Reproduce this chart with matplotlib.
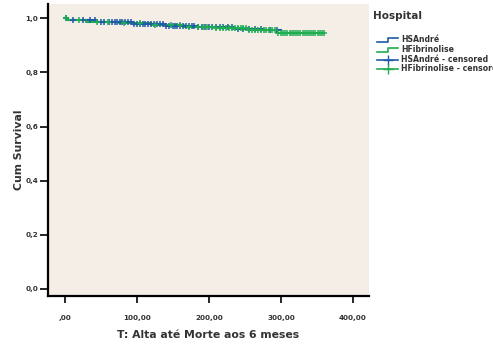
import numpy as np
import matplotlib
matplotlib.use("Agg")
import matplotlib.pyplot as plt
from matplotlib.lines import Line2D

# ---- data ----
groups = ["HSAndré", "HFibrinolise"]
blue_times = [0, 4, 45, 95, 140, 185, 235, 275]
blue_surv = [1.0, 0.992, 0.986, 0.979, 0.972, 0.966, 0.960, 0.955]
blue_end = 300
green_times = [0, 3, 30, 75, 120, 165, 210, 255, 295]
green_surv = [1.0, 0.993, 0.987, 0.982, 0.976, 0.969, 0.962, 0.956, 0.946]
green_end = 360

blue_cens = [2, 12, 25, 35, 42, 50, 55, 62, 66, 70, 73, 76, 80, 84, 88, 92, 96,
             100, 104, 108, 112, 116, 120, 124, 128, 132, 136, 140, 145, 150,
             153, 156, 160, 164, 168, 172, 176, 180, 185, 190, 195, 200, 205,
             210, 215, 220, 226, 232, 240, 248, 256, 264, 272, 285, 295]
green_cens = [1, 20, 45, 60, 82, 105, 125, 148, 160, 172, 185, 192, 198, 204,
              210, 215, 220, 224, 228, 232, 236, 240, 244, 248, 252, 256, 260,
              264, 268, 272, 276, 280, 284, 288, 292, 296, 300, 303, 306, 309,
              312, 315, 318, 321, 324, 327, 330, 333, 336, 339, 342, 345, 348,
              351, 354, 357, 360]

xticks = [0, 100, 200, 300, 400]
xticklabels = [",00", "100,00", "200,00", "300,00", "400,00"]
yticks = [0.0, 0.2, 0.4, 0.6, 0.8, 1.0]
yticklabels = ["0,0", "0,2", "0,4", "0,6", "0,8", "1,0"]

blue = "#1f5ba8"
green = "#20ad52"
bg = "#f5eee7"

fig = plt.figure(figsize=(4.93, 3.44), dpi=100)
ax = fig.add_axes([0.097, 0.1395, 0.651, 0.8485])
ax.set_facecolor(bg)
ax.set_xlim(-23.6, 422)
ax.set_ylim(-0.026, 1.052)


def km_value(times, surv, t):
    idx = np.searchsorted(times, t, side="right") - 1
    return np.array(surv)[idx]


for times, surv, end, cens, col in [
    (blue_times, blue_surv, blue_end, blue_cens, blue),
    (green_times, green_surv, green_end, green_cens, green),
]:
    x = list(times) + [end]
    y = list(surv) + [surv[-1]]
    ax.step(x, y, where="post", color=col, lw=1.5, zorder=3)
    cy = km_value(times, surv, np.array(cens))
    ax.plot(cens, cy, linestyle="none", marker="+", ms=4.2, mew=1.1,
            color=col, zorder=4)

for s in ["top", "right"]:
    ax.spines[s].set_visible(False)
for s in ["left", "bottom"]:
    ax.spines[s].set_linewidth(1.6)

ax.set_xticks(xticks)
ax.set_xticklabels(xticklabels, fontsize=5.2, fontweight="bold", color="#333333")
ax.set_yticks(yticks)
ax.set_yticklabels(yticklabels, fontsize=5.2, fontweight="bold", color="#333333")
ax.tick_params(axis="both", length=5, width=1.2, direction="out", pad=9)
ax.tick_params(axis="y", pad=1, length=6)

ax.set_xlabel("T: Alta até Morte aos 6 meses", fontsize=7.8, fontweight="bold",
              color="#333333", labelpad=6)
ax.set_ylabel("Cum Survival", fontsize=7.8, fontweight="bold", color="#333333",
              labelpad=1)

# ---- legend (drawn manually) ----
W, H = 493, 344


def fx(px):
    return px / W


def fy(py):
    return 1 - py / H


fig.text(fx(373), fy(16), "Hospital", fontsize=7.5, fontweight="bold",
         color="#333333", va="center", ha="left")
rows = [39.5, 49.5, 59.5, 68.5]
labels = ["HSAndré", "HFibrinolise", "HSAndré - censored",
          "HFibrinolise - censored"]
cols = [blue, green, blue, green]
for i, (ry, lab, col) in enumerate(zip(rows, labels, cols)):
    if i < 2:
        xs = [fx(377), fx(388), fx(388), fx(398)]
        ys = [fy(ry + 2), fy(ry + 2), fy(ry - 2), fy(ry - 2)]
        fig.add_artist(Line2D(xs, ys, color=col, lw=1.2, transform=fig.transFigure))
    else:
        fig.add_artist(Line2D([fx(377), fx(398)], [fy(ry), fy(ry)], color=col,
                              lw=1.2, transform=fig.transFigure))
        fig.add_artist(Line2D([fx(387.5)], [fy(ry)], color=col, marker="+",
                              ms=7, mew=1.0, transform=fig.transFigure))
    fig.text(fx(401), fy(ry), lab, fontsize=5.6, fontweight="bold",
             color="#333333", va="center", ha="left")

fig.savefig("out.png", dpi=100, facecolor="white")
